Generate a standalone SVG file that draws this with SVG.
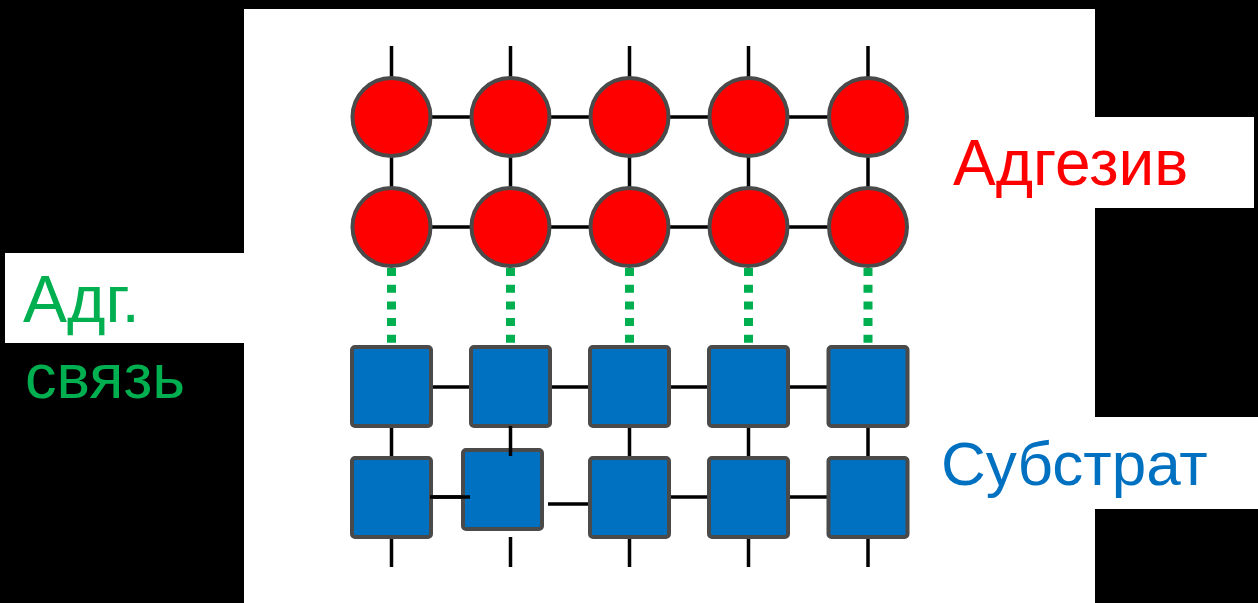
<svg xmlns="http://www.w3.org/2000/svg" width="1258" height="603" viewBox="0 0 1258 603">
<style>
.bg{fill:#ffffff}
.ln{stroke:#000000;stroke-width:3.5;fill:none}
.bond{stroke:#00b050;stroke-width:9;stroke-dasharray:8 8.7;fill:none}
.atom{fill:#ff0000;stroke:#4a4a4a;stroke-width:4}
.sub{fill:#0070c0;stroke:#4a4a4a;stroke-width:4}
.t{font-family:"Liberation Sans",Arial,sans-serif}
</style>
<rect x="0" y="0" width="1258" height="603" fill="#000000"/>
<g id="panels">
<rect class="bg" x="244" y="9" width="851" height="594"/>
<rect class="bg" x="1094" y="117" width="160" height="91"/>
<rect class="bg" x="1094" y="417" width="164" height="92"/>
<rect class="bg" x="5" y="253" width="240" height="90"/>
</g>
<g id="connectors">
<path class="ln" d="M391.5 46V80M510.5 46V80M629.5 46V80M748.5 46V80M868 46V80"/>
<path class="ln" d="M391.5 150V192M510.5 150V192M629.5 150V192M748.5 150V192M868 150V192"/>
<path class="ln" d="M420 117H480M540 117H600M660 117H720M780 117H840"/>
<path class="ln" d="M420 227H480M540 227H600M660 227H720M780 227H840"/>
<path class="ln" d="M430 387H472M549 387H591M668 387H710M787 387H829"/>
<path class="ln" d="M391.5 426V458M629.5 426V458M748.5 426V458M868 426V458"/>
<path class="ln" d="M430 497H470M548 504H591M668 497H710M787 497H829"/>
<path class="ln" d="M391.5 537V567M510.5 537V567M629.5 537V567M748.5 537V567M868 537V567"/>
<path class="bond" d="M391.5 268V345M510.5 268V345M629.5 268V345M748.5 268V345M868 268V345"/>
</g>
<g id="adhesive">
<circle class="atom" cx="391.5" cy="117" r="39"/>
<circle class="atom" cx="510.5" cy="117" r="39"/>
<circle class="atom" cx="629.5" cy="117" r="39"/>
<circle class="atom" cx="748.5" cy="117" r="39"/>
<circle class="atom" cx="868" cy="117" r="39"/>
<circle class="atom" cx="391.5" cy="227" r="39"/>
<circle class="atom" cx="510.5" cy="227" r="39"/>
<circle class="atom" cx="629.5" cy="227" r="39"/>
<circle class="atom" cx="748.5" cy="227" r="39"/>
<circle class="atom" cx="868" cy="227" r="39"/>
</g>
<g id="substrate">
<rect class="sub" x="352" y="347" width="79" height="79" rx="3"/>
<rect class="sub" x="471" y="347" width="79" height="79" rx="3"/>
<rect class="sub" x="590" y="347" width="79" height="79" rx="3"/>
<rect class="sub" x="709" y="347" width="79" height="79" rx="3"/>
<rect class="sub" x="828.5" y="347" width="79" height="79" rx="3"/>
<rect class="sub" x="352" y="458" width="79" height="79" rx="3"/>
<rect class="sub" x="463" y="450" width="79" height="79" rx="3"/>
<rect class="sub" x="590" y="458" width="79" height="79" rx="3"/>
<rect class="sub" x="709" y="458" width="79" height="79" rx="3"/>
<rect class="sub" x="828.5" y="458" width="79" height="79" rx="3"/>
</g>
<g id="overlay-lines">
<path class="ln" d="M510.5 426V456M430 497H470"/>
</g>
<g id="labels">
<text class="t" x="953" y="185" fill="#ff0000" style="font-size:64px">Адгезив</text>
<text class="t" x="941" y="485" fill="#0070c0" style="font-size:62px">Субстрат</text>
<text class="t" x="23" y="322" fill="#00b050" style="font-size:66px">Адг.</text>
<text class="t" x="25" y="398" fill="#00b050" style="font-size:63px">связь</text>
</g>
</svg>
